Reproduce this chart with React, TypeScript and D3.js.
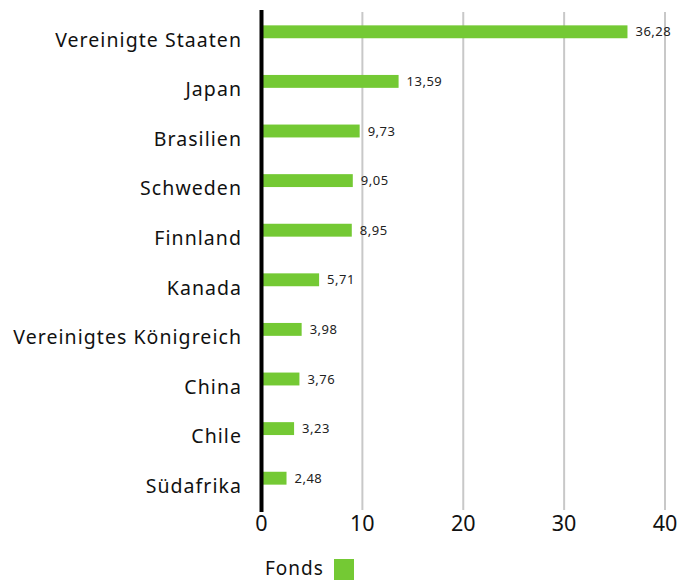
import React from "react";
import * as d3 from "d3";

const countries = [
  "Vereinigte Staaten",
  "Japan",
  "Brasilien",
  "Schweden",
  "Finnland",
  "Kanada",
  "Vereinigtes Königreich",
  "China",
  "Chile",
  "Südafrika",
];
const fonds = [36.28, 13.59, 9.73, 9.05, 8.95, 5.71, 3.98, 3.76, 3.23, 2.48];
const xTicks = [0, 10, 20, 30, 40];

const W = 679;
const H = 580;
const green = "#74c934";
const font = "'Noto Sans', sans-serif";

export default function App() {
  const x = d3.scaleLinear().domain([0, 40]).range([261.5, 665]);
  const y = d3.scaleBand<string>().domain(countries).range([7, 503]).paddingInner(0.74).paddingOuter(0.37);
  const fmt = (v: number) => v.toFixed(2).replace(".", ",");

  return (
    <svg width={W} height={H} style={{ position: "absolute", left: 0, top: 0 }}>
      <rect width={W} height={H} fill="#fff" />
      {xTicks.slice(1).map((t) => (
        <line key={t} x1={x(t)} x2={x(t)} y1={12} y2={510} stroke="#c8c8c8" strokeWidth={2} />
      ))}
      {countries.map((c, i) => (
        <g key={c}>
          <rect x={x(0)} y={y(c)} width={x(fonds[i]) - x(0)} height={y.bandwidth()} fill={green} />
          <text
            x={x(fonds[i]) + 8}
            y={(y(c) ?? 0) + y.bandwidth() / 2}
            dy="0.35em"
            fontFamily={font}
            fontSize={13}
            letterSpacing={0.5}
            fill="#222"
          >
            {fmt(fonds[i])}
          </text>
          <text
            x={242}
            y={(y(c) ?? 0) + y.bandwidth() / 2 + 8}
            dy="0.35em"
            textAnchor="end"
            fontFamily={font}
            fontSize={19.5}
            letterSpacing={1.05}
            fill="#111"
          >
            {c}
          </text>
        </g>
      ))}
      <line x1={x(0)} x2={x(0)} y1={10} y2={512} stroke="#000" strokeWidth={4} />
      {xTicks.map((t) => (
        <text key={t} x={x(t)} y={531} textAnchor="middle" fontFamily={font} fontSize={21.5} fill="#111">
          {t}
        </text>
      ))}
      <text x={265} y={575} fontFamily={font} fontSize={19} letterSpacing={1} fill="#111">
        Fonds
      </text>
      <rect x={334} y={559} width={20} height={21} fill={green} />
    </svg>
  );
}
